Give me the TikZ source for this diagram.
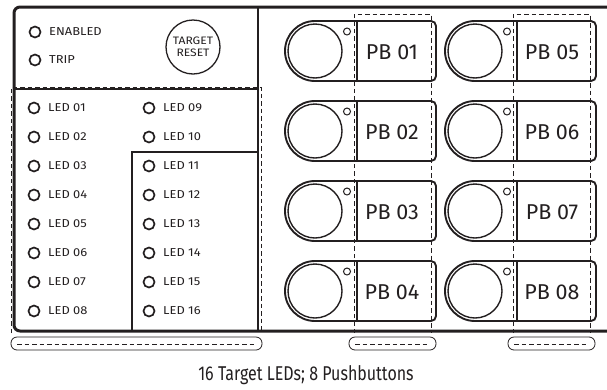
\documentclass[tikz,border=0pt]{standalone}
\usepackage{fontspec}
\setmainfont{Fira Sans}
\newfontfamily\panelfont[FakeStretch=1.12]{Fira Sans}
\definecolor{ink}{HTML}{231F20}
\tikzset{
    frame/.style={ink, line width=3pt},
    divider/.style={ink, line width=2.4pt},
    thinbox/.style={ink, line width=1.4pt},
    cutout/.style={ink, line width=0.8pt, dash pattern=on 4.5pt off 3pt},
    ledring/.style={ink, line width=1.7pt},
    ledtext/.style={right, inner sep=0pt, text=ink, font=\fontsize{11.5}{13}\selectfont\panelfont},
    pbline/.style={ink, line width=1.9pt, line cap=round},
    pbtext/.style={inner sep=0pt, text=ink, font=\fontsize{21.5}{25}\selectfont}
}
% one pushbutton: name, centre of the round cap, label
\newcommand{\pushbutton}[4]{
    \draw [pbline, rounded corners=5pt] (#2,#3-30) -- (#2+121,#3-30) -- (#2+121,#3+30) -- (#2,#3+30);
    \draw [pbline] (#2,#3+30) arc (90:270:30);
    \draw [ink, line width=1.4pt] (#2,#3) circle (27);
    \draw [pbline] (#2+42,#3-30) -- (#2+42,#3+30);
    \draw [ink, line width=1pt] (#2+32,#3-19.5) circle (3.5);
    \node (#1) [pbtext] at (#2+77,#3+1) {#4};
}
\begin{document}
\begin{tikzpicture}[x=1pt, y=-1pt]
    \useasboundingbox (0,0) rectangle (607,389);
    % housing
    \draw [frame, rounded corners=6pt] (607,7) -- (14,7) -- (14,331) -- (607,331);
    \draw [divider] (258,7) -- (258,331);
    \draw [divider] (14,89) -- (258,89);
    \draw [thinbox] (132,331) -- (132,152) -- (258,152);
    % status and reset
    \draw [ledring] (35,32) circle (5.5);
    \node (enabled) [ledtext] at (49,32) {ENABLED};
    \draw [ledring] (35,60) circle (5.5);
    \node (trip) [ledtext] at (49,60) {TRIP};
    \draw [ink, line width=1.3pt] (193,47) circle (27);
    \node (reset) [align=center, inner sep=0pt, text=ink, font=\fontsize{10.8}{12}\selectfont\panelfont] at (193,47) {TARGET\\RESET};
    % target LEDs
    \draw [ledring] (34,108) circle (5.5);
    \node (led01) [ledtext] at (48,108) {LED 01};
    \draw [ledring] (34,137) circle (5.5);
    \node (led02) [ledtext] at (48,137) {LED 02};
    \draw [ledring] (34,166) circle (5.5);
    \node (led03) [ledtext] at (48,166) {LED 03};
    \draw [ledring] (34,195) circle (5.5);
    \node (led04) [ledtext] at (48,195) {LED 04};
    \draw [ledring] (34,224) circle (5.5);
    \node (led05) [ledtext] at (48,224) {LED 05};
    \draw [ledring] (34,253) circle (5.5);
    \node (led06) [ledtext] at (48,253) {LED 06};
    \draw [ledring] (34,282) circle (5.5);
    \node (led07) [ledtext] at (48,282) {LED 07};
    \draw [ledring] (34,311) circle (5.5);
    \node (led08) [ledtext] at (48,311) {LED 08};
    \draw [ledring] (149,108) circle (5.5);
    \node (led09) [ledtext] at (163,108) {LED 09};
    \draw [ledring] (149,137) circle (5.5);
    \node (led10) [ledtext] at (163,137) {LED 10};
    \draw [ledring] (149,166) circle (5.5);
    \node (led11) [ledtext] at (163,166) {LED 11};
    \draw [ledring] (149,195) circle (5.5);
    \node (led12) [ledtext] at (163,195) {LED 12};
    \draw [ledring] (149,224) circle (5.5);
    \node (led13) [ledtext] at (163,224) {LED 13};
    \draw [ledring] (149,253) circle (5.5);
    \node (led14) [ledtext] at (163,253) {LED 14};
    \draw [ledring] (149,282) circle (5.5);
    \node (led15) [ledtext] at (163,282) {LED 15};
    \draw [ledring] (149,311) circle (5.5);
    \node (led16) [ledtext] at (163,311) {LED 16};
    % pushbuttons
    \pushbutton{pb01}{315}{51}{PB 01}
    \pushbutton{pb02}{315}{131}{PB 02}
    \pushbutton{pb03}{315}{211}{PB 03}
    \pushbutton{pb04}{315}{291}{PB 04}
    \pushbutton{pb05}{475}{51}{PB 05}
    \pushbutton{pb06}{475}{131}{PB 06}
    \pushbutton{pb07}{475}{211}{PB 07}
    \pushbutton{pb08}{475}{291}{PB 08}
    % label cutouts
    \draw [cutout] (11,333) -- (11,87) -- (261,87) -- (261,333);
    \draw [cutout] (354,333) -- (354,14) -- (431,14) -- (431,333);
    \draw [cutout] (513,333) -- (513,14) -- (590,14) -- (590,333);
    \draw [ink, line width=0.8pt, rounded corners=6pt] (11,337) rectangle (262,350);
    \draw [cutout] (17,344) -- (256,344);
    \draw [ink, line width=0.8pt, rounded corners=6pt] (349,337) rectangle (436,350);
    \draw [cutout] (355,344) -- (430,344);
    \draw [ink, line width=0.8pt, rounded corners=6pt] (508,337) rectangle (595,350);
    \draw [cutout] (514,344) -- (589,344);
    \node (caption) [inner sep=0pt, text=ink] at (306,375) {\scalebox{0.8}[1]{\fontsize{20}{23}\selectfont 16 Target LEDs; 8 Pushbuttons}};
\end{tikzpicture}
\end{document}
